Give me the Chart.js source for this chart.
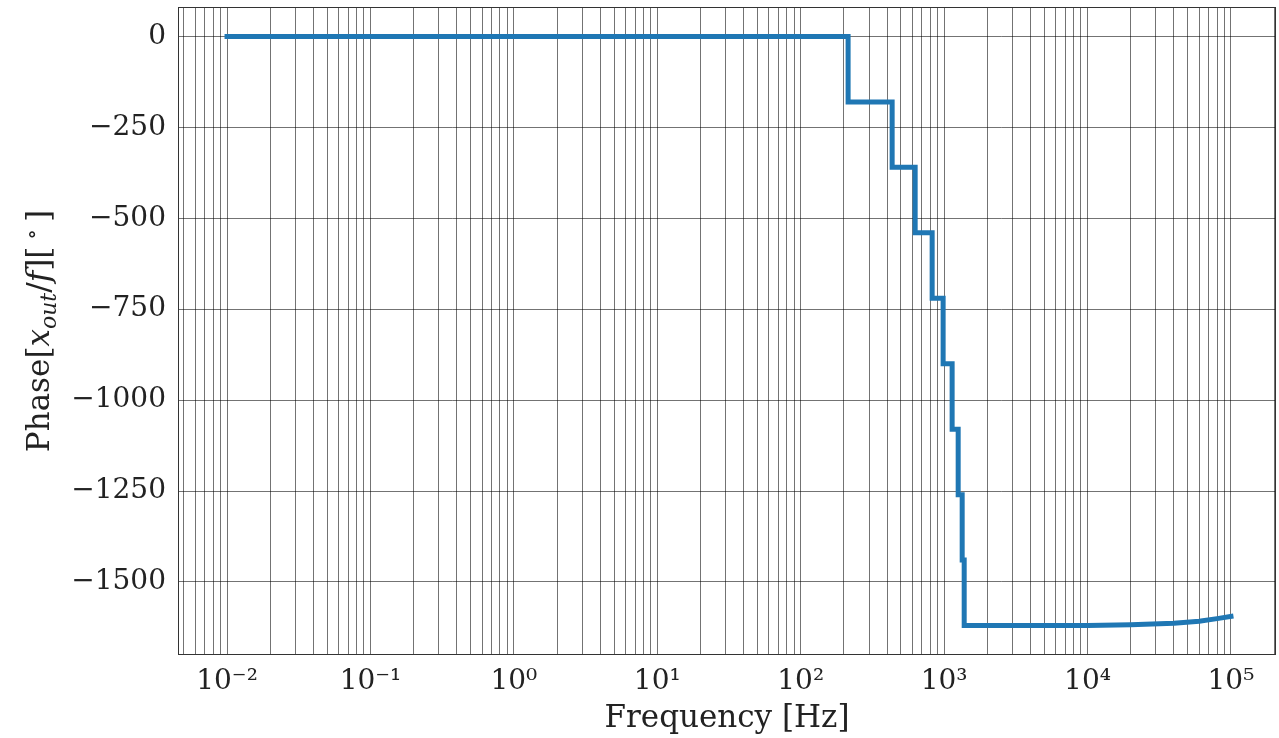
<html>
<head>
<script src="https://cdn.jsdelivr.net/npm/chart.js@4"></script>
<style>
body{margin:0;background:#fff;}
#box{width:1279px;height:738px;position:relative;}
</style>
</head>
<body>
<div id="box"><canvas id="phase"></canvas></div>
<script>
// step frequencies (Hz) where the phase drops, and the phase level of each plateau
var stepFreqs = [214, 434, 628, 825, 984, 1137, 1253, 1336, 1380];
var stepLevels = [0, -180, -360, -540, -720, -900, -1080, -1260, -1440, -1620];
var startFreq = 0.01;
// slow rise after the last step
var tailFreqs = [3000, 10000, 20000, 40000, 60000, 80000, 100000];
var tailPhases = [-1620, -1620, -1618, -1614, -1608, -1601, -1595];
var yTicks = [0, -250, -500, -750, -1000, -1250, -1500];
var xMin = Math.pow(10, -2.342), xMax = Math.pow(10, 5.314);
var yMin = -1701, yMax = 81;

var pts = [{x: startFreq, y: stepLevels[0]}];
for (var i = 0; i < stepFreqs.length; i++) {
  pts.push({x: stepFreqs[i], y: stepLevels[i]});
  pts.push({x: stepFreqs[i], y: stepLevels[i + 1]});
}
for (var j = 0; j < tailFreqs.length; j++) pts.push({x: tailFreqs[j], y: tailPhases[j]});

var sup = {'-':'\u207B','0':'\u2070','1':'\u00B9','2':'\u00B2','3':'\u00B3','4':'\u2074','5':'\u2075'};
function expLabel(e){
  return '10' + String(e).split('').map(function(c){return sup[c];}).join('');
}

var serif = "'DejaVu Serif', serif";

var frame = {
  id: 'frame',
  afterDraw: function(c){
    var a = c.chartArea, g = c.ctx;
    g.save();
    g.strokeStyle = '#333';
    g.lineWidth = 1;
    g.strokeRect(a.left + 0.5, a.top + 0.5, a.right - a.left - 1, a.bottom - a.top - 1);
    // y axis title with italic / subscript parts
    var segs = [
      {t:'Phase[', f:'31px ' + serif, dy:0},
      {t:'x', f:'italic 31px ' + serif, dy:0},
      {t:'out', f:'italic 22px ' + serif, dy:7},
      {t:'/', f:'31px ' + serif, dy:0},
      {t:'f', f:'italic 31px ' + serif, dy:0},
      {t:'][', f:'31px ' + serif, dy:0},
      {t:' \u2218 ', f:'22px ' + serif, dy:-10},
      {t:']', f:'31px ' + serif, dy:0}
    ];
    var w = 0;
    segs.forEach(function(s){ g.font = s.f; s.w = g.measureText(s.t).width; w += s.w; });
    g.translate(49, (a.top + a.bottom) / 2);
    g.rotate(-Math.PI / 2);
    g.fillStyle = '#222';
    g.textBaseline = 'alphabetic';
    var x = -w / 2;
    segs.forEach(function(s){ g.font = s.f; g.fillText(s.t, x, s.dy); x += s.w; });
    g.restore();
  }
};

new Chart(document.getElementById('phase'), {
  type: 'line',
  data: {
    datasets: [{
      data: pts,
      borderColor: '#1f77b4',
      borderWidth: 5,
      borderCapStyle: 'square',
      pointRadius: 0,
      fill: false,
      tension: 0
    }]
  },
  options: {
    responsive: true,
    maintainAspectRatio: false,
    animation: false,
    layout: {padding: {top: 7, right: 3, left: 0, bottom: 0}},
    plugins: {legend: {display: false}, tooltip: {enabled: false}},
    scales: {
      x: {
        type: 'logarithmic',
        min: xMin,
        max: xMax,
        afterBuildTicks: function(s){
          var t = [];
          for (var e = -3; e <= 5; e++) {
            for (var m = 1; m <= 9; m++) {
              var v = m * Math.pow(10, e);
              if (v >= xMin && v <= xMax) t.push({value: v, major: m === 1});
            }
          }
          s.ticks = t;
        },
        afterFit: function(s){ s.height = 83; s.paddingLeft = 0; s.paddingRight = 0; },
        grid: {color: 'rgba(0,0,0,0.55)', lineWidth: 1, drawTicks: false},
        border: {display: false},
        ticks: {
          autoSkip: false,
          maxRotation: 0,
          padding: 10,
          color: '#222',
          font: {family: serif, size: 28},
          callback: function(v){
            var e = Math.round(Math.log10(v));
            return Math.abs(v - Math.pow(10, e)) < 1e-9 * Math.pow(10, e) ? expLabel(e) : '';
          }
        },
        title: {
          display: true,
          text: 'Frequency [Hz]',
          color: '#222',
          font: {family: serif, size: 31},
          padding: {top: 4, bottom: 0}
        }
      },
      y: {
        min: yMin,
        max: yMax,
        afterBuildTicks: function(s){
          s.ticks = yTicks.map(function(v){ return {value: v}; });
        },
        afterFit: function(s){ s.width = 178; s.paddingTop = 0; s.paddingBottom = 0; },
        grid: {color: 'rgba(0,0,0,0.55)', lineWidth: 1, drawTicks: false},
        border: {display: false},
        ticks: {
          padding: 12,
          color: '#222',
          font: {family: serif, size: 28},
          callback: function(v){ return v < 0 ? '\u2212' + Math.abs(v) : String(v); }
        }
      }
    }
  },
  plugins: [frame]
});
</script>
</body>
</html>
